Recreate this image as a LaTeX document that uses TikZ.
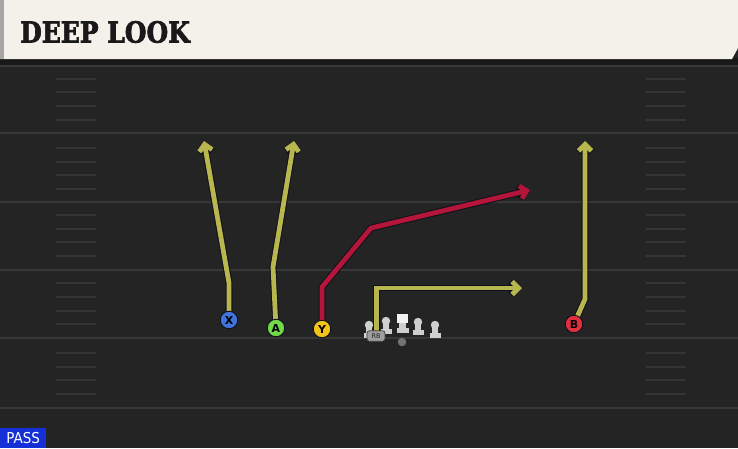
\documentclass[tikz,border=0pt]{standalone}
\usepackage{fontspec}
\usetikzlibrary{arrows.meta}
\newfontfamily\titlefont{DejaVu Serif}[BoldFeatures={FakeBold=2.5}]
\newfontfamily\playfont{DejaVu Sans}
\definecolor{field}{HTML}{242424}
\definecolor{yardline}{HTML}{383838}
\definecolor{hash}{HTML}{353535}
\definecolor{header}{HTML}{F4F1EA}
\definecolor{olive}{HTML}{B8B64E}
\definecolor{crimson}{HTML}{B3163A}
\definecolor{outline}{HTML}{10101A}
\definecolor{pblue}{HTML}{3F74DB}
\definecolor{pgreen}{HTML}{72D94A}
\definecolor{pyellow}{HTML}{F2C419}
\definecolor{pred}{HTML}{E0303F}
\definecolor{lineman}{HTML}{CFCFCF}
\definecolor{passblue}{HTML}{1630D8}
\tikzset{
  player/.style={circle, draw=outline, line width=0.9pt, minimum size=17.5pt, inner sep=0pt, font=\playfont\bfseries\fontsize{11}{11}\selectfont, text=black},
  route/.style={line width=4.8pt, line join=miter, -{Straight Barb[length=6.5pt,width=13pt]},
     preaction={draw=outline, line width=6.8pt}},
  oliveroute/.style={route, draw=olive},
  redroute/.style={route, draw=crimson},
  yline/.style={draw=yardline, line width=2pt},
  hashline/.style={draw=hash, line width=1.8pt},
}
\begin{document}
\begin{tikzpicture}[x=1pt,y=-1pt]
\useasboundingbox (0,0) rectangle (738,448);
% field
\fill[field] (0,0) rectangle (738,448);
% yard lines
\foreach \yy in {133,202,270,338,408} \draw[yline] (0,\yy) -- (738,\yy);
% hash marks
\foreach \yy in {79,92,106,120,148,162,175,189,215,229,242,256,283,297,311,324,353,367,380,394} {
  \draw[hashline] (56,\yy) -- (96,\yy);
  \draw[hashline] (646,\yy) -- (686,\yy);
}
% header
\fill[black!90] (0,58) rectangle (738,65);
\draw[yline] (0,66) -- (738,66);
\fill[header] (0,0) -- (738,0) -- (738,48) -- (732,59) -- (0,59) -- cycle;
\fill[black!35] (0,0) rectangle (4,59);
\node[anchor=west, inner sep=0pt, text=black!90] (title) at (20,32)
  {\scalebox{0.86}[1]{\titlefont\bfseries\fontsize{29}{29}\selectfont DEEP LOOK}};

% route waypoints
\coordinate (x1) at (229,283);
\coordinate (x2) at (204,141);
\coordinate (a1) at (273,267);
\coordinate (a2) at (294,141);
\coordinate (y1) at (322,287);
\coordinate (y2) at (371,228);
\coordinate (y3) at (530,190);
\coordinate (r1) at (376.5,288);
\coordinate (r2) at (522,288);
\coordinate (b1) at (585,299);
\coordinate (b2) at (585,141);

% player anchors
\coordinate (X) at (229,320);
\coordinate (A) at (276,328);
\coordinate (Y) at (322,329);
\coordinate (B) at (574,324);
\coordinate (RB) at (376.5,334);

% routes
\draw[oliveroute] (X) -- (x1) -- (x2);
\draw[oliveroute] (A) -- (a1) -- (a2);
\draw[redroute] (Y) -- (y1) -- (y2) -- (y3);
\draw[oliveroute] (RB) -- (r1) -- (r2);
\draw[oliveroute] (B) -- (b1) -- (b2);

% skill players
\node[player, fill=pblue] (px) at (X) {X};
\node[player, fill=pgreen] (pa) at (A) {A};
\node[player, fill=pyellow] (py) at (Y) {Y};
\node[player, fill=pred] (pb) at (B) {B};

% linemen
\foreach \lx/\ly in {369/325, 386/321, 418/322, 435/325} {
  \fill[lineman] (\lx,\ly) circle (4.2);
  \fill[lineman] (\lx-2.6,\ly) rectangle (\lx+2.6,\ly+10);
  \fill[lineman] (\lx-5.5,\ly+8) rectangle (\lx+5.5,\ly+13);
}
% center
\fill[white!95!black] (397,314) rectangle (408,323);
\fill[lineman] (399.4,323) rectangle (405.6,331);
\fill[lineman] (396.5,328) rectangle (408.5,333);
% ball
\node[circle, fill=black!55, minimum size=8.5pt, inner sep=0pt] (ball) at (402,342) {};
% RB tag
\node[rounded corners=2.5pt, fill=black!38, draw=black!75, line width=0.7pt, minimum width=18pt, minimum height=10.5pt, inner sep=0pt, text=black!85, font=\playfont\fontsize{6.5}{6.5}\selectfont] (rbtag) at (376,336) {RB};

% PASS label
\node[fill=passblue, anchor=south west, minimum width=46pt, minimum height=20pt, inner sep=0pt, text=white, font=\playfont\fontsize{15}{15}\selectfont] (pass) at (0,448) {\scalebox{0.9}[1]{PASS}};
\end{tikzpicture}
\end{document}
